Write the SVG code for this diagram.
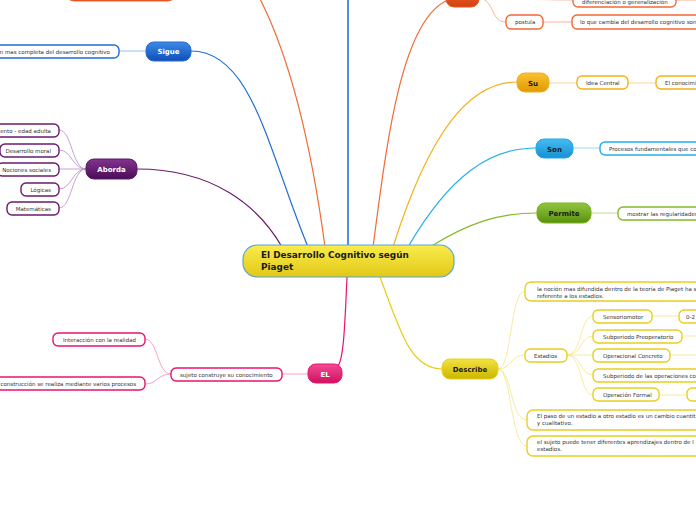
<svg xmlns="http://www.w3.org/2000/svg" width="696" height="520" viewBox="0 0 696 520">
<defs>
<linearGradient id="gC" x1="0" y1="0" x2="0" y2="1"><stop offset="0" stop-color="#f9ec4c"/><stop offset="1" stop-color="#e2c816"/></linearGradient>
<linearGradient id="gBlue" x1="0" y1="0" x2="0" y2="1"><stop offset="0" stop-color="#3d8ae8"/><stop offset="1" stop-color="#0f4fb6"/></linearGradient>
<linearGradient id="gPur" x1="0" y1="0" x2="0" y2="1"><stop offset="0" stop-color="#83338f"/><stop offset="1" stop-color="#4b0d58"/></linearGradient>
<linearGradient id="gGold" x1="0" y1="0" x2="0" y2="1"><stop offset="0" stop-color="#fac233"/><stop offset="1" stop-color="#e09a00"/></linearGradient>
<linearGradient id="gSky" x1="0" y1="0" x2="0" y2="1"><stop offset="0" stop-color="#45bcf2"/><stop offset="1" stop-color="#1590d2"/></linearGradient>
<linearGradient id="gGrn" x1="0" y1="0" x2="0" y2="1"><stop offset="0" stop-color="#90c63e"/><stop offset="1" stop-color="#5a9010"/></linearGradient>
<linearGradient id="gYel" x1="0" y1="0" x2="0" y2="1"><stop offset="0" stop-color="#f2e240"/><stop offset="1" stop-color="#cbb600"/></linearGradient>
<linearGradient id="gPink" x1="0" y1="0" x2="0" y2="1"><stop offset="0" stop-color="#f24c94"/><stop offset="1" stop-color="#d0105e"/></linearGradient>
<linearGradient id="gOr" x1="0" y1="0" x2="0" y2="1"><stop offset="0" stop-color="#f26a36"/><stop offset="1" stop-color="#d2400e"/></linearGradient>
</defs>
<style>
.t{font-family:"DejaVu Sans",Verdana,sans-serif;font-size:5.5px;fill:#333}
.m{font-family:"DejaVu Sans",Verdana,sans-serif;font-size:7px;font-weight:bold}
.w{fill:#fff}
.k{fill:#1a1a1a}
.b{fill:#fff;stroke-width:1.4}
.c{fill:none}
</style>
<rect width="696" height="520" fill="#fff"/>
<g id="connectors" class="c">
  <path d="M282 247 C258 205 212 169 137 169" stroke="#6a1b6e" stroke-width="1.2"/>
  <path d="M308 247 C268 150 252 51 191 51" stroke="#1f6fd6" stroke-width="1.2"/>
  <path d="M325 247 C312 150 292 60 258 -5" stroke="#f26a36" stroke-width="1.2"/>
  <path d="M348 247 L348 0" stroke="#2b6fd9" stroke-width="1.6"/>
  <path d="M373 247 C386 150 400 20 448 0" stroke="#f26a36" stroke-width="1.2"/>
  <path d="M393 247 C430 130 470 82 517 82" stroke="#f2b21a" stroke-width="1.2"/>
  <path d="M408 247 C450 175 490 148 536 148" stroke="#25aee8" stroke-width="1.2"/>
  <path d="M430 247 C470 222 500 213 537 213" stroke="#84ba2a" stroke-width="1.2"/>
  <path d="M380 277 C400 330 410 369 442 369" stroke="#e6cf14" stroke-width="1.2"/>
  <path d="M347 277 C345 320 344 358 338 366" stroke="#e8146e" stroke-width="1.2"/>
  <path d="M146 51 L119 51" stroke="#9cc0ee" stroke-width="1"/>
  <g stroke="#b88cc4" stroke-width="0.8">
    <path d="M86 169 C72 169 72 130 59 130"/>
    <path d="M86 169 C72 169 72 150 59 150"/>
    <path d="M86 169 L59 169"/>
    <path d="M86 169 C72 169 72 189 59 189"/>
    <path d="M86 169 C72 169 72 208 59 208"/>
  </g>
  <g stroke="#f7a07c" stroke-width="0.8">
    <path d="M479 -2 C500 -2 540 0 573 0"/>
    <path d="M479 -2 C495 0 490 22 506 22"/>
    <path d="M543 22 L572 22"/>
    <path d="M676 0 L696 0"/>
  </g>
  <path d="M549 83 L577 83 M628 83 L656 83" stroke="#f8d890" stroke-width="1"/>
  <path d="M573 148 L600 148" stroke="#9ad6f4" stroke-width="1"/>
  <path d="M591 213 L618 213" stroke="#c0dc8c" stroke-width="1"/>
  <g stroke="#f2e68a" stroke-width="0.8">
    <path d="M498 369 C512 369 510 291 525 291"/>
    <path d="M498 369 C512 369 510 355 525 355"/>
    <path d="M498 369 C512 369 510 420 527 420"/>
    <path d="M498 369 C512 369 510 446 527 446"/>
    <path d="M567 355 C582 355 580 316 593 316"/>
    <path d="M567 355 C582 355 580 336 593 336"/>
    <path d="M567 355 L593 355"/>
    <path d="M567 355 C582 355 580 375 593 375"/>
    <path d="M567 355 C582 355 580 395 593 395"/>
    <path d="M652 316 L679 316"/>
    <path d="M682 336 L696 336"/>
    <path d="M670 355 L696 355"/>
    <path d="M659 395 L687 395"/>
  </g>
  <g stroke="#f48ab8" stroke-width="0.8">
    <path d="M308 374 L282 374"/>
    <path d="M171 374 C157 374 158 339 145 339"/>
    <path d="M171 374 C157 374 158 384 145 384"/>
  </g>
</g>

<g id="center">
  <rect x="243" y="245" width="211" height="32" rx="14" fill="url(#gC)" stroke="#5aa3dc" stroke-width="1.2"/>
  <text class="m k" x="261" y="258" style="font-size:8.9px">El Desarrollo Cognitivo según</text>
  <text class="m k" x="261" y="270" style="font-size:8.9px">Piaget</text>
</g>

<g id="orange-left"><rect x="66" y="-20" width="110" height="21" rx="8" fill="url(#gOr)" stroke="#f26a36"/></g>
<g id="orange-right"><rect x="446" y="-13" width="33" height="20" rx="8" fill="url(#gOr)" stroke="#e8562a"/></g>
<g id="diferenciacion"><rect class="b" x="573" y="-6" width="103" height="13" rx="5" stroke="#f26a36"/><text class="t" x="582" y="4">diferenciación o generalización</text></g>
<g id="postula"><rect class="b" x="506" y="15" width="37" height="14" rx="5" stroke="#f26a36"/><text class="t" x="515" y="24">postula</text></g>
<g id="lo-que-cambia"><rect class="b" x="572" y="15" width="130" height="14" rx="5" stroke="#f26a36"/><text class="t" x="580" y="24">lo que cambia del desarrollo cognitivo son</text></g>

<g id="sigue"><rect x="146" y="42" width="45" height="19" rx="8" fill="url(#gBlue)" stroke="#2a6ad0"/><text class="m w" x="168.5" y="54" text-anchor="middle">Sigue</text></g>
<g id="sigue-child"><rect class="b" x="-10" y="45" width="129" height="13" rx="5" stroke="#1f6fd6"/><text class="t" x="110" y="54" text-anchor="end">n mas completa del desarrollo cognitivo</text></g>

<g id="aborda"><rect x="86" y="159" width="51" height="20" rx="8" fill="url(#gPur)" stroke="#5a1a66"/><text class="m w" x="111.5" y="172" text-anchor="middle">Aborda</text></g>
<g id="edad-adulta"><rect class="b" x="-20" y="124" width="79" height="13" rx="5" stroke="#6a1b6e"/><text class="t" x="51" y="132.5" text-anchor="end">ento - edad adulta</text></g>
<g id="desarrollo-moral"><rect class="b" x="0" y="144" width="59" height="13" rx="5" stroke="#6a1b6e"/><text class="t" x="51" y="152.5" text-anchor="end">Desarrollo moral</text></g>
<g id="nociones"><rect class="b" x="-3" y="163" width="62" height="13" rx="5" stroke="#6a1b6e"/><text class="t" x="51" y="171.5" text-anchor="end">Nociones sociales</text></g>
<g id="logicas"><rect class="b" x="21" y="183" width="38" height="13" rx="5" stroke="#6a1b6e"/><text class="t" x="51" y="191.5" text-anchor="end">Lógicas</text></g>
<g id="matematicas"><rect class="b" x="7" y="202" width="52" height="13" rx="5" stroke="#6a1b6e"/><text class="t" x="51" y="210.5" text-anchor="end">Matemáticas</text></g>

<g id="su"><rect x="517" y="73" width="32" height="19" rx="8" fill="url(#gGold)" stroke="#f0b020"/><text class="m k" x="533" y="85.5" text-anchor="middle">Su</text></g>
<g id="idea-central"><rect class="b" x="577" y="76" width="51" height="13" rx="5" stroke="#f2b21a"/><text class="t" x="586" y="84.5">Idea Central</text></g>
<g id="conocimiento"><rect class="b" x="656" y="76" width="50" height="13" rx="5" stroke="#f2b21a"/><text class="t" x="665" y="84.5">El conocimi</text></g>

<g id="son"><rect x="536" y="139" width="37" height="19" rx="8" fill="url(#gSky)" stroke="#20a8e8"/><text class="m k" x="554.5" y="151.5" text-anchor="middle">Son</text></g>
<g id="procesos"><rect class="b" x="600" y="142" width="110" height="13" rx="5" stroke="#25aee8"/><text class="t" x="609" y="150.5">Procesos fundamentales que co</text></g>

<g id="permite"><rect x="537" y="203" width="54" height="20" rx="8" fill="url(#gGrn)" stroke="#7cb518"/><text class="m k" x="564" y="216" text-anchor="middle">Permite</text></g>
<g id="mostrar"><rect class="b" x="618" y="207" width="90" height="13" rx="5" stroke="#84ba2a"/><text class="t" x="627" y="215.5">mostrar las regularidades</text></g>

<g id="describe"><rect x="442" y="359" width="56" height="20" rx="8" fill="url(#gYel)" stroke="#e8d020"/><text class="m k" x="470" y="372" text-anchor="middle">Describe</text></g>
<g id="nocion"><rect class="b" x="525" y="282" width="185" height="19" rx="6" stroke="#e8d020"/><text class="t" x="537" y="290.5">la noción mas difundida dentro de la teoría de Piaget ha s</text><text class="t" x="537" y="297.5">referente a los estadios.</text></g>
<g id="estadios"><rect class="b" x="525" y="349" width="42" height="13" rx="5" stroke="#e8d020"/><text class="t" x="534" y="357.5">Estadios</text></g>
<g id="sensoriomotor"><rect class="b" x="593" y="310" width="59" height="13" rx="5" stroke="#e8d020"/><text class="t" x="603" y="318.5">Sensoriomotor</text></g>
<g id="s02"><rect class="b" x="679" y="310" width="40" height="13" rx="5" stroke="#e8d020"/><text class="t" x="686" y="318.5">0-2</text></g>
<g id="preoperatorio"><rect class="b" x="593" y="330" width="89" height="13" rx="5" stroke="#e8d020"/><text class="t" x="603" y="338.5">Subperiodo Preoperatorio</text></g>
<g id="concreto"><rect class="b" x="593" y="349" width="77" height="13" rx="5" stroke="#e8d020"/><text class="t" x="603" y="357.5">Operacional Concreto</text></g>
<g id="subperiodo-op"><rect class="b" x="593" y="369" width="120" height="13" rx="5" stroke="#e8d020"/><text class="t" x="603" y="377.5">Subperiodo de las operaciones co</text></g>
<g id="formal"><rect class="b" x="593" y="388" width="66" height="13" rx="5" stroke="#e8d020"/><text class="t" x="603" y="396.5">Operación Formal</text></g>
<g id="formal-child"><rect class="b" x="687" y="388" width="30" height="13" rx="5" stroke="#e8d020"/></g>
<g id="paso"><rect class="b" x="527" y="410" width="185" height="20" rx="6" stroke="#e8d020"/><text class="t" x="537" y="418">El paso de un estadio a otro estadio es un cambio cuantit</text><text class="t" x="537" y="425">y cualitativo.</text></g>
<g id="aprendizajes"><rect class="b" x="527" y="436" width="185" height="20" rx="6" stroke="#e8d020"/><text class="t" x="537" y="444">el sujeto puede tener diferentes aprendizajes dentro de l</text><text class="t" x="537" y="451">estadios.</text></g>

<g id="el"><rect x="308" y="364" width="34" height="19" rx="8" fill="url(#gPink)" stroke="#e8146e"/><text class="m w" x="325" y="376.5" text-anchor="middle">EL</text></g>
<g id="sujeto"><rect class="b" x="171" y="368" width="111" height="13" rx="5" stroke="#e8146e"/><text class="t" x="180" y="376.5">sujeto construye su conocimiento</text></g>
<g id="interaccion"><rect class="b" x="53" y="333" width="92" height="13" rx="5" stroke="#e8146e"/><text class="t" x="136" y="341.5" text-anchor="end">Interacción con la realidad</text></g>
<g id="construccion"><rect class="b" x="-20" y="377" width="165" height="13" rx="5" stroke="#e8146e"/><text class="t" x="136" y="385.5" text-anchor="end">construcción se realiza mediante varios procesos</text></g>
</svg>
